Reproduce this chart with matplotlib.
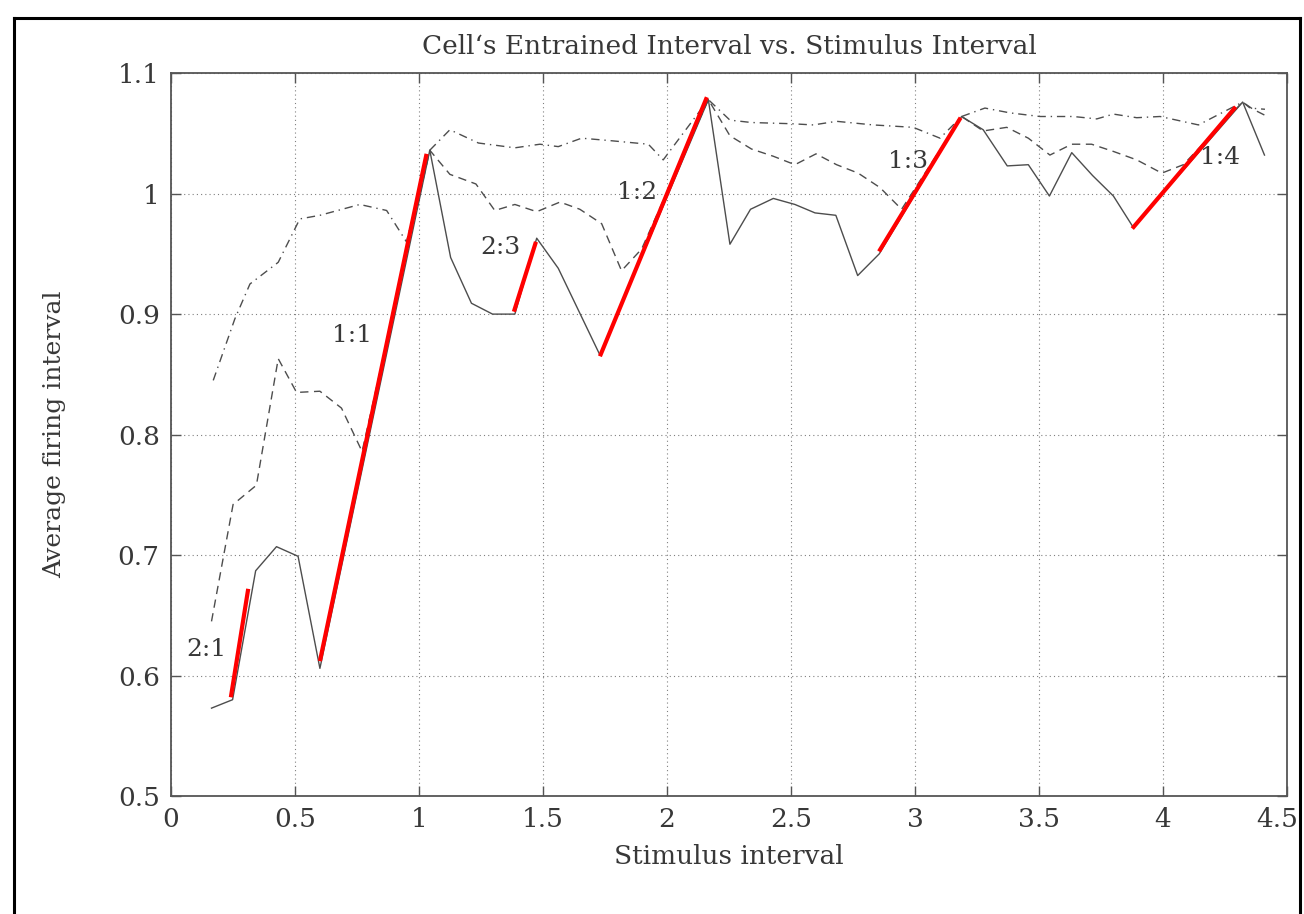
import matplotlib
matplotlib.use("Agg")
import matplotlib.pyplot as plt
from matplotlib.lines import Line2D
from matplotlib.transforms import ScaledTranslation

# -------------------------------
# Data
# -------------------------------
# mean firing interval of the cell (solid)
solid_x = [0.164, 0.249, 0.342, 0.426, 0.513, 0.601, 1.044, 1.128, 1.212, 1.297,
           1.387, 1.475, 1.562, 1.730, 2.167, 2.254, 2.337, 2.429, 2.516, 2.597,
           2.681, 2.769, 2.856, 3.188, 3.275, 3.372, 3.457, 3.542, 3.632, 3.716,
           3.800, 3.880, 4.321, 4.409]
solid_y = [0.573, 0.580, 0.687, 0.707, 0.699, 0.606, 1.036, 0.947, 0.909, 0.900,
           0.900, 0.963, 0.938, 0.866, 1.078, 0.958, 0.987, 0.996, 0.991, 0.984,
           0.982, 0.932, 0.950, 1.064, 1.053, 1.023, 1.024, 0.998, 1.034, 1.015,
           0.998, 0.972, 1.076, 1.032]

# second run (dashed)
dash_x = [0.164, 0.251, 0.345, 0.433, 0.507, 0.601, 0.688, 0.771, 1.044, 1.125,
          1.230, 1.306, 1.387, 1.475, 1.569, 1.649, 1.737, 1.817, 1.898, 2.167,
          2.254, 2.341, 2.429, 2.516, 2.601, 2.684, 2.771, 2.859, 2.946, 3.188,
          3.275, 3.370, 3.457, 3.544, 3.632, 3.712, 3.800, 3.894, 3.995, 4.082,
          4.321, 4.363, 4.411]
dash_y = [0.645, 0.742, 0.758, 0.863, 0.835, 0.836, 0.822, 0.786, 1.036, 1.016,
          1.008, 0.986, 0.991, 0.985, 0.993, 0.987, 0.975, 0.936, 0.954, 1.078,
          1.048, 1.037, 1.031, 1.024, 1.033, 1.024, 1.017, 1.005, 0.987, 1.064,
          1.052, 1.055, 1.046, 1.032, 1.041, 1.041, 1.035, 1.028, 1.017, 1.024,
          1.076, 1.070, 1.065]

# third run (dash-dot)
dd_x = [0.171, 0.258, 0.319, 0.433, 0.520, 0.601, 0.762, 0.870, 0.950, 1.044,
        1.125, 1.240, 1.387, 1.488, 1.562, 1.656, 1.770, 1.925, 1.985, 2.167,
        2.254, 2.341, 2.502, 2.590, 2.684, 2.832, 2.993, 3.101, 3.188, 3.282,
        3.383, 3.504, 3.638, 3.733, 3.800, 3.894, 3.988, 4.055, 4.143, 4.321,
        4.351, 4.411]
dd_y = [0.845, 0.896, 0.925, 0.943, 0.979, 0.982, 0.991, 0.986, 0.960, 1.036,
        1.053, 1.042, 1.038, 1.041, 1.039, 1.046, 1.044, 1.041, 1.028, 1.078,
        1.061, 1.059, 1.058, 1.057, 1.060, 1.057, 1.055, 1.046, 1.064, 1.071,
        1.067, 1.064, 1.064, 1.062, 1.066, 1.063, 1.064, 1.061, 1.057, 1.076,
        1.071, 1.070]

# entrainment segments and their ratio labels
ratio_names = ["2:1", "1:1", "2:3", "1:2", "1:3", "1:4"]
seg_start_x = [0.242, 0.601, 1.383, 1.730, 2.855, 3.876]
seg_start_y = [0.582, 0.612, 0.902, 0.865, 0.952, 0.971]
seg_end_x = [0.312, 1.031, 1.472, 2.161, 3.184, 4.293]
seg_end_y = [0.672, 1.033, 0.960, 1.080, 1.063, 1.072]
label_x = [0.144, 0.729, 1.327, 1.878, 2.972, 4.230]
label_y = [0.622, 0.882, 0.955, 1.001, 1.027, 1.030]

x_ticks = [0, 0.5, 1, 1.5, 2, 2.5, 3, 3.5, 4, 4.5]
x_tick_labels = ["0", "0.5", "1", "1.5", "2", "2.5", "3", "3.5", "4", "4.5"]
y_ticks = [0.5, 0.6, 0.7, 0.8, 0.9, 1.0, 1.1]
y_tick_labels = ["0.5", "0.6", "0.7", "0.8", "0.9", "1", "1.1"]

# -------------------------------
# Style
# -------------------------------
plt.rcParams["font.family"] = ["DejaVu Serif"]
LINE_COLOR = "#4d4d4d"
TEXT_COLOR = "#383838"
AXIS_COLOR = "#555555"

fig = plt.figure(figsize=(13.04, 9.14), dpi=100)
ax = fig.add_axes([0.131, 0.129, 0.856, 0.791])

ax.plot(solid_x, solid_y, color=LINE_COLOR, linewidth=1.0)
ax.plot(dash_x, dash_y, color=LINE_COLOR, linewidth=1.0, dashes=(6, 4))
ax.plot(dd_x, dd_y, color=LINE_COLOR, linewidth=1.0, dashes=(6, 3.5, 1, 3.5))

for i in range(len(ratio_names)):
    ax.plot([seg_start_x[i], seg_end_x[i]], [seg_start_y[i], seg_end_y[i]],
            color="red", linewidth=3, solid_capstyle="butt")
    ax.text(label_x[i], label_y[i], ratio_names[i], fontsize=18,
            color=TEXT_COLOR, ha="center", va="center")

ax.set_xlim(0, 4.5)
ax.set_ylim(0.5, 1.1)
ax.set_xticks(x_ticks)
ax.set_xticklabels(x_tick_labels)
ax.set_yticks(y_ticks)
ax.set_yticklabels(y_tick_labels)

ax.grid(True, linestyle=(0, (1, 2.8)), color="#808080", linewidth=0.8)
ax.tick_params(direction="in", length=7, width=1, color=AXIS_COLOR,
               top=True, right=True, labelsize=19, labelcolor=TEXT_COLOR, pad=8)
for s in ax.spines.values():
    s.set_color(AXIS_COLOR)
    s.set_linewidth(1.3)

# the last x label sits against the page edge, nudge it inward
last = ax.get_xticklabels()[-1]
last.set_transform(last.get_transform() + ScaledTranslation(-0.1, 0, fig.dpi_scale_trans))

ax.set_title("Cell\u2018s Entrained Interval vs. Stimulus Interval",
             fontsize=19, color=TEXT_COLOR, pad=14)
ax.set_xlabel("Stimulus interval", fontsize=19, color=TEXT_COLOR)
ax.set_ylabel("Average firing interval", fontsize=18, color=TEXT_COLOR)
ax.xaxis.set_label_coords(0.5, -0.084)
ax.xaxis.label.set_va("center")
ax.yaxis.set_label_coords(-0.104, 0.5)
ax.yaxis.label.set_va("center")

# page frame around the figure
W, H = 1304, 914
frame_kw = dict(color="black", linewidth=2.2, transform=fig.transFigure)
fig.add_artist(Line2D([14 / W, 14 / W], [0, 1 - 18 / H], **frame_kw))
fig.add_artist(Line2D([1300 / W, 1300 / W], [0, 1 - 18 / H], **frame_kw))
fig.add_artist(Line2D([14 / W, 1300 / W], [1 - 18 / H, 1 - 18 / H], **frame_kw))

fig.savefig("out.png", dpi=100)
